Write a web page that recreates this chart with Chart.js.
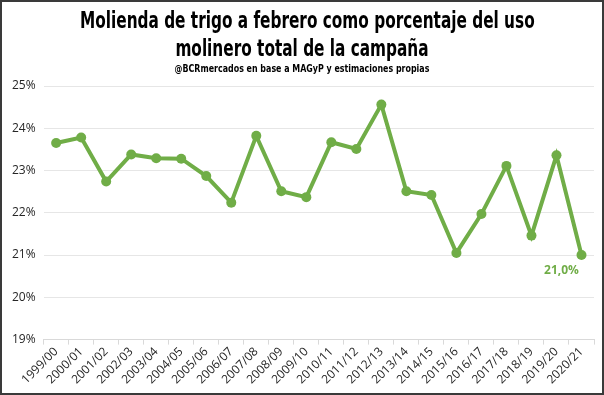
<!DOCTYPE html>
<html>
<head>
<meta charset="utf-8">
<script src="https://cdn.jsdelivr.net/npm/chart.js@4.4.0/dist/chart.umd.min.js"></script>
<style>
  html, body { margin: 0; padding: 0; background: #fff; }
  #marco { width: 604px; height: 395px; box-sizing: border-box; border: 2px solid #3a3a3a; position: relative; }
  canvas { display: block; }
  #cabecera { position: absolute; left: 0; right: 0; top: 4px; text-align: center; color: #000; z-index: 2;
    font-family: "DejaVu Sans Condensed", "Liberation Sans", sans-serif; font-weight: bold; }
  #cabecera .t { font-size: 23px; line-height: 28px; transform: scaleX(0.74); transform-origin: center; white-space: nowrap; }
  #cabecera .s { font-size: 11px; line-height: 14px; transform: scaleX(0.8); transform-origin: center; white-space: nowrap; }
</style>
</head>
<body>
<div id="marco">
  <div id="cabecera"></div>
  <canvas id="grafico"></canvas>
</div>
<script>
// Campañas
const campanias = ['1999/00', '2000/01', '2001/02', '2002/03', '2003/04', '2004/05', '2005/06', '2006/07',
  '2007/08', '2008/09', '2009/10', '2010/11', '2011/12', '2012/13', '2013/14', '2014/15', '2015/16',
  '2016/17', '2017/18', '2018/19', '2019/20', '2020/21'];

// Molienda a febrero como % del uso molinero total
const molienda = [23.65, 23.78, 22.74, 23.38, 23.29, 23.28, 22.87, 22.24, 23.82, 22.51, 22.37,
  23.67, 23.51, 24.56, 22.51, 22.42, 21.05, 21.97, 23.11, 21.46, 23.36, 21.00];

const titulo = ['Molienda de trigo a febrero como porcentaje del uso', 'molinero total de la campaña'];
const subtitulo = '@BCRmercados  en base a MAGyP y estimaciones propias';
const etiquetaFinal = '21,0%';

const verde = '#70ad47';

// Cabecera
const cab = document.getElementById('cabecera');
titulo.forEach(linea => {
  const d = document.createElement('div');
  d.className = 't';
  d.textContent = linea;
  cab.appendChild(d);
});
const sub = document.createElement('div');
sub.className = 's';
sub.textContent = subtitulo;
cab.appendChild(sub);

// Etiqueta del último punto
const etiquetaUltimo = {
  id: 'etiquetaUltimo',
  afterDatasetsDraw(chart) {
    const meta = chart.getDatasetMeta(0);
    const p = meta.data[meta.data.length - 1];
    const ctx = chart.ctx;
    ctx.save();
    ctx.font = 'bold 12px "Open Sans", sans-serif';
    ctx.fillStyle = verde;
    ctx.textAlign = 'center';
    ctx.textBaseline = 'middle';
    ctx.fillText(etiquetaFinal, p.x - 20, p.y + 16);
    ctx.restore();
  }
};

new Chart(document.getElementById('grafico'), {
  type: 'line',
  data: {
    labels: campanias,
    datasets: [{
      data: molienda,
      borderColor: verde,
      borderWidth: 4,
      backgroundColor: verde,
      pointRadius: 5,
      pointBorderWidth: 0,
      pointBackgroundColor: verde,
      tension: 0
    }]
  },
  options: {
    responsive: true,
    maintainAspectRatio: false,
    animation: false,
    layout: { padding: { left: 2, right: 8, top: 84, bottom: 6 } },
    plugins: {
      legend: { display: false },
      tooltip: { enabled: false }
    },
    scales: {
      x: {
        offset: true,
        grid: { display: true, drawOnChartArea: false, drawTicks: true, tickLength: 5, offset: true, color: '#d9d9d9' },
        border: { display: true, color: '#d9d9d9' },
        ticks: {
          color: '#262626',
          font: { family: '"Open Sans", sans-serif', size: 12 },
          maxRotation: 45,
          minRotation: 45,
          autoSkip: false,
          padding: 0
        }
      },
      y: {
        min: 19,
        max: 25,
        ticks: {
          stepSize: 1,
          color: '#262626',
          font: { family: '"Open Sans", sans-serif', size: 12 },
          padding: 8,
          callback: v => v + '%'
        },
        grid: { color: '#e6e6e6', drawTicks: false },
        border: { display: false }
      }
    }
  },
  plugins: [etiquetaUltimo]
});
</script>
</body>
</html>
